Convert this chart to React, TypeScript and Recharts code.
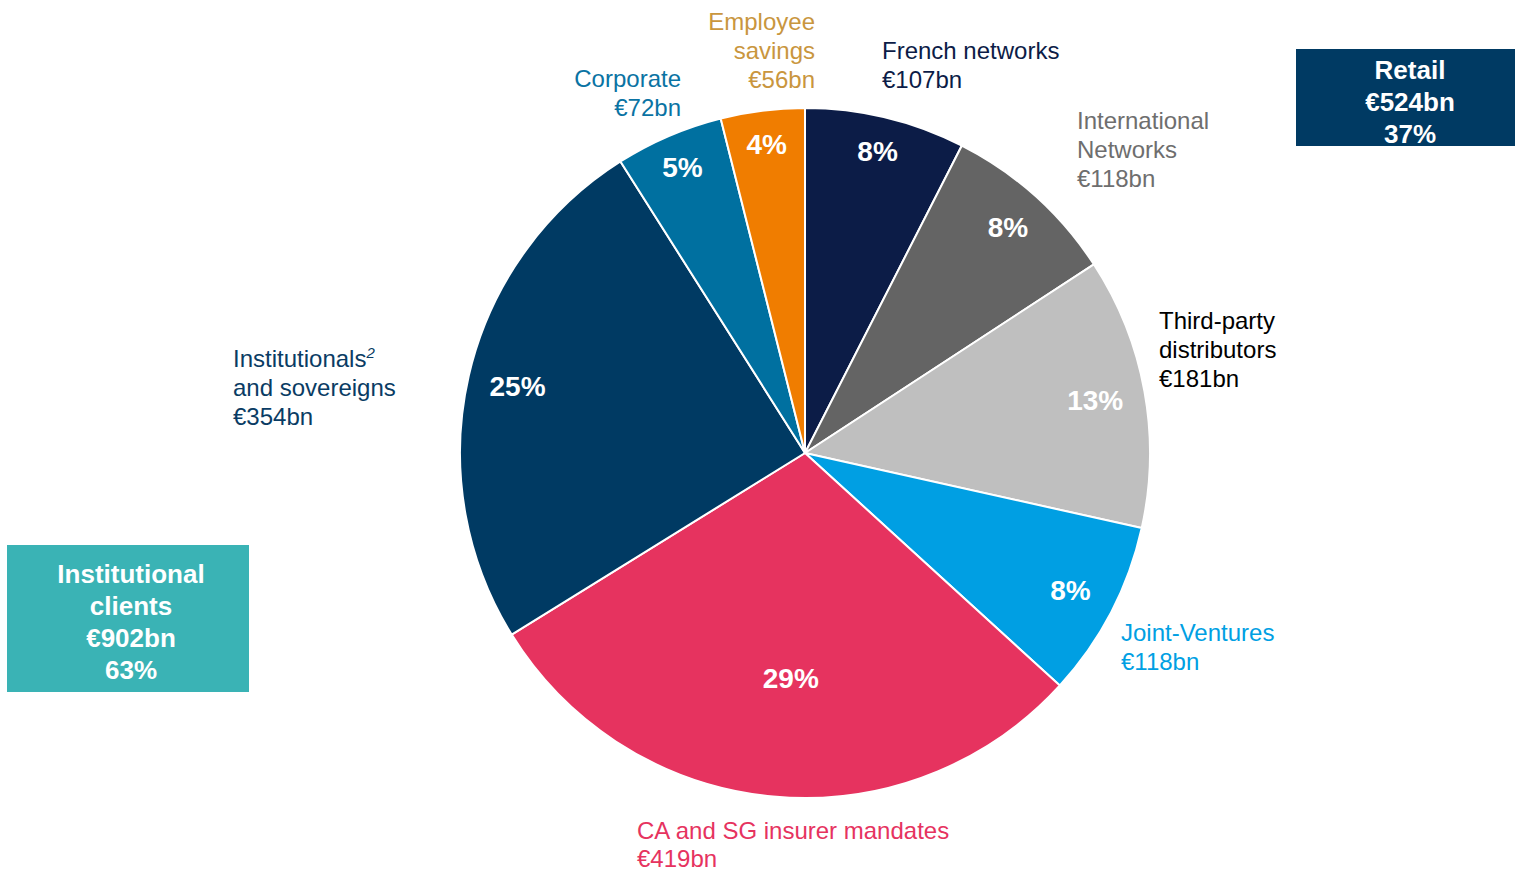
import React from "react";
import { PieChart, Pie, Cell } from "recharts";

const categories = [
  "French networks",
  "International Networks",
  "Third-party distributors",
  "Joint-Ventures",
  "CA and SG insurer mandates",
  "Institutionals and sovereigns",
  "Corporate",
  "Employee savings",
];
const aumValues = [107, 118, 181, 118, 419, 354, 72, 56];
const valueLabels = ["€107bn", "€118bn", "€181bn", "€118bn", "€419bn", "€354bn", "€72bn", "€56bn"];

const sliceColors = ["#0C1C47", "#646464", "#BFBFBF", "#009FE3", "#E6335F", "#003A63", "#0070A0", "#F07D00"];
const pctLabelRadius = [0.9, 0.88, 0.855, 0.867, 0.655, 0.855, 0.9, 0.9];
const pctLabelAngleShift = [0, 0, 0, 0, 1.7, 0, 0, 0];

const data = categories.map((name, i) => ({ name, value: aumValues[i] }));

const FONT = "'Liberation Sans', Arial, Helvetica, sans-serif";
const RAD = Math.PI / 180;

const renderPct = (props: any) => {
  const { cx, cy, midAngle, outerRadius, percent, index } = props;
  const r = outerRadius * pctLabelRadius[index];
  const a = midAngle + pctLabelAngleShift[index];
  const x = cx + r * Math.cos(-a * RAD);
  const y = cy + r * Math.sin(-a * RAD);
  return (
    <text
      x={x}
      y={y}
      fill="#FFFFFF"
      textAnchor="middle"
      dominantBaseline="central"
      fontFamily={FONT}
      fontWeight="bold"
      fontSize={28}
    >
      {`${Math.round(percent * 100)}%`}
    </text>
  );
};

const labelStyle = (left: number, top: number, color: string, align: "left" | "right"): React.CSSProperties => ({
  position: "absolute",
  top,
  ...(align === "left" ? { left } : { right: 1515 - left }),
  color,
  fontFamily: FONT,
  fontSize: 24,
  lineHeight: "29px",
  textAlign: align,
  whiteSpace: "nowrap",
});

const boxStyle = (left: number, top: number, w: number, h: number, bg: string, padTop: number, padLeft: number): React.CSSProperties => ({
  position: "absolute",
  left,
  top,
  width: w,
  height: h,
  background: bg,
  color: "#FFFFFF",
  fontFamily: FONT,
  fontWeight: "bold",
  fontSize: 26,
  lineHeight: "32px",
  textAlign: "center",
  boxSizing: "border-box",
  paddingTop: padTop,
  paddingLeft: padLeft,
});

export default function App() {
  return (
    <div style={{ position: "absolute", left: 0, top: 0, width: 1515, height: 872, background: "#FFFFFF", overflow: "hidden" }}>
      <PieChart
        width={1515}
        height={872}
        margin={{ top: 0, right: 0, bottom: 0, left: 0 }}
        style={{ position: "absolute", left: 0, top: 0 }}
      >
        <Pie
          data={data}
          dataKey="value"
          nameKey="name"
          cx={805}
          cy={453}
          outerRadius={345}
          innerRadius={0}
          startAngle={90}
          endAngle={-270}
          stroke="#FFFFFF"
          strokeWidth={2}
          label={renderPct}
          labelLine={false}
          isAnimationActive={false}
        >
          {data.map((d, i) => (
            <Cell key={d.name} fill={sliceColors[i]} />
          ))}
        </Pie>
      </PieChart>

      <div style={labelStyle(815, 7, "#C9963E", "right")}>
        Employee<br />savings<br />{valueLabels[7]}
      </div>
      <div style={labelStyle(681, 64, "#0A73A3", "right")}>
        {categories[6]}<br />{valueLabels[6]}
      </div>
      <div style={labelStyle(882, 36, "#0C1C47", "left")}>
        {categories[0]}<br />{valueLabels[0]}
      </div>
      <div style={labelStyle(1077, 106, "#6E6E6E", "left")}>
        International<br />Networks<br />{valueLabels[1]}
      </div>
      <div style={labelStyle(1159, 306, "#000000", "left")}>
        Third-party<br />distributors<br />{valueLabels[2]}
      </div>
      <div style={labelStyle(1121, 618, "#009FE3", "left")}>
        {categories[3]}<br />{valueLabels[3]}
      </div>
      <div style={labelStyle(637, 816, "#E6335F", "left")}>
        <div>{categories[4]}</div>
        <div style={{ height: 24, lineHeight: "24px", marginTop: 2 }}>{valueLabels[4]}</div>
      </div>
      <div style={labelStyle(233, 344, "#0A3C64", "left")}>
        Institutionals<sup style={{ fontSize: 15, fontStyle: "italic", verticalAlign: "top", lineHeight: "18px" }}>2</sup>
        <br />and sovereigns<br />{valueLabels[5]}
      </div>

      <div style={boxStyle(1296, 49, 219, 97, "#003A63", 5, 9)}>
        Retail<br />€524bn<br />37%
      </div>
      <div style={boxStyle(7, 545, 242, 147, "#3AB3B5", 13, 6)}>
        Institutional<br />clients<br />€902bn<br />63%
      </div>
    </div>
  );
}
